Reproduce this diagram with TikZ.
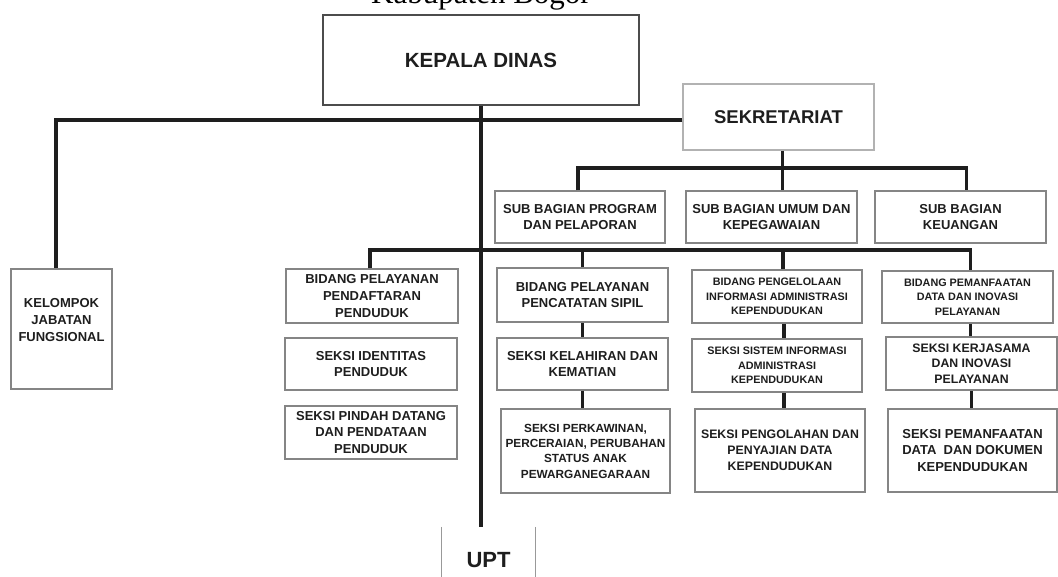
\documentclass[tikz,border=0pt]{standalone}
\usepackage{fontspec}
\setmainfont{Liberation Sans}
\newfontfamily\titlefont{Liberation Serif}
\usepackage{tikz}
\usetikzlibrary{positioning}
\definecolor{ink}{HTML}{1E1E1E}
\definecolor{edge}{HTML}{858585}

\begin{document}
\begin{tikzpicture}[x=1pt,y=-1pt,
    box/.style={draw=edge,line width=1.5pt,align=center,inner sep=0pt,text=ink,font=\bfseries\fontsize{13}{16.8}\selectfont},
    smallbox/.style={box,font=\bfseries\fontsize{10.8}{14.5}\selectfont},
    midbox/.style={box,font=\bfseries\fontsize{12.3}{15.8}\selectfont},
    link/.style={draw=ink,line width=3.2pt}]
  \useasboundingbox[fill=white] (0,0) rectangle (1058,576);
  \node[anchor=base,text=black,font=\titlefont\fontsize{31}{31}\selectfont](title) at (481,3){Kabupaten Bogor};
  % pimpinan
  \node[box,draw=black!70,line width=2pt,minimum width=316pt,minimum height=90pt,font=\bfseries\fontsize{20.5}{21}\selectfont](kd) at (481,60){KEPALA DINAS};
  \node[box,draw=black!30,minimum width=191pt,minimum height=66pt,font=\bfseries\fontsize{18.5}{20}\selectfont](sekre) at (778.5,117){SEKRETARIAT};
  \node[box,minimum width=101pt,minimum height=120pt,text depth=18pt,font=\bfseries\fontsize{13}{17.3}\selectfont](kjf) at (61.5,329){KELOMPOK\\JABATAN\\FUNGSIONAL};
  % sub bagian
  \node[box,minimum width=170pt,minimum height=52pt](subprog) at (580,217){SUB BAGIAN PROGRAM\\DAN PELAPORAN};
  \node[box,minimum width=171pt,minimum height=52pt](subumum) at (771.5,217){SUB BAGIAN UMUM DAN\\KEPEGAWAIAN};
  \node[box,minimum width=171pt,minimum height=52pt](subkeu) at (960.5,217){SUB BAGIAN\\KEUANGAN};
  % bidang
  \node[box,minimum width=172pt,minimum height=54pt](bpp) at (372,296){BIDANG PELAYANAN\\PENDAFTARAN\\PENDUDUK};
  \node[box,minimum width=171pt,minimum height=54pt](bps) at (582.5,295){BIDANG PELAYANAN\\PENCATATAN SIPIL};
  \node[smallbox,minimum width=170pt,minimum height=53pt](bpi) at (777,296.5){BIDANG PENGELOLAAN\\INFORMASI ADMINISTRASI\\KEPENDUDUKAN};
  \node[smallbox,minimum width=171pt,minimum height=52pt](bpd) at (967.5,297){BIDANG PEMANFAATAN\\DATA DAN INOVASI\\PELAYANAN};
  % seksi
  \node[box,minimum width=172pt,minimum height=52pt](sid) at (371,364){SEKSI IDENTITAS\\PENDUDUK};
  \node[box,minimum width=172pt,minimum height=53pt](spd) at (371,432.5){SEKSI PINDAH DATANG\\DAN PENDATAAN\\PENDUDUK};
  \node[box,minimum width=171pt,minimum height=52pt](skk) at (582.5,364){SEKSI KELAHIRAN DAN\\KEMATIAN};
  \node[midbox,font=\bfseries\fontsize{11.8}{15.3}\selectfont,minimum width=169pt,minimum height=84pt](spk) at (585.5,451){SEKSI PERKAWINAN,\\PERCERAIAN, PERUBAHAN\\STATUS ANAK\\PEWARGANEGARAAN};
  \node[smallbox,minimum width=170pt,minimum height=53pt](ssi) at (777,365.5){SEKSI SISTEM INFORMASI\\ADMINISTRASI\\KEPENDUDUKAN};
  \node[midbox,minimum width=170pt,minimum height=83pt](spp) at (780,450.5){SEKSI PENGOLAHAN DAN\\PENYAJIAN DATA\\KEPENDUDUKAN};
  \node[midbox,minimum width=171pt,minimum height=53pt](skj) at (971.5,363.5){SEKSI KERJASAMA\\DAN INOVASI\\PELAYANAN};
  \node[box,minimum width=169pt,minimum height=83pt](spm) at (972.5,450.5){SEKSI PEMANFAATAN\\DATA~~DAN DOKUMEN\\KEPENDUDUKAN};
  % upt
  \node[inner sep=0pt,minimum width=93pt,minimum height=66pt,text=ink,font=\bfseries\fontsize{22}{22}\selectfont](upt) at (488.5,560){UPT};
  \draw[draw=black!40,line width=1.3pt] (upt.north west) -- (upt.south west) (upt.north east) -- (upt.south east);
  % garis
  \coordinate (sekbus) at (780,168);
  \coordinate (bidbus) at (480,250);
  \draw[link] (kd.south) -- (kd.south |- upt.north);
  \draw[link] ([yshift=-3pt]sekre.west) -| ([xshift=-5.5pt]kjf.north);
  \draw[link] ([xshift=4pt]sekre.south) -- ([xshift=4pt]sekre.south |- subumum.north);
  \draw[link] ([xshift=-2pt]subprog.north) |- (sekbus) -| ([xshift=6pt]subkeu.north);
  \draw[link] ([xshift=-2pt]bpp.north) |- (bidbus) -| ([xshift=3pt]bpd.north);
  \draw[link] (bps.north) -- (bps.north |- bidbus);
  \draw[link] ([xshift=6pt]bpi.north) -- ([xshift=6pt]bpi.north |- bidbus);
  \draw[link] (bps.south) -- (bps.south |- skk.north);
  \draw[link] (skk.south) -- (skk.south |- spk.north);
  \draw[link] ([xshift=7pt]bpi.south) -- ([xshift=7pt]bpi.south |- ssi.north);
  \draw[link] ([xshift=7pt]ssi.south) -- ([xshift=7pt]ssi.south |- spp.north);
  \draw[link] ([xshift=3pt]bpd.south) -- ([xshift=3pt]bpd.south |- skj.north);
  \draw[link] (skj.south) -- (skj.south |- spm.north);
\end{tikzpicture}
\end{document}
